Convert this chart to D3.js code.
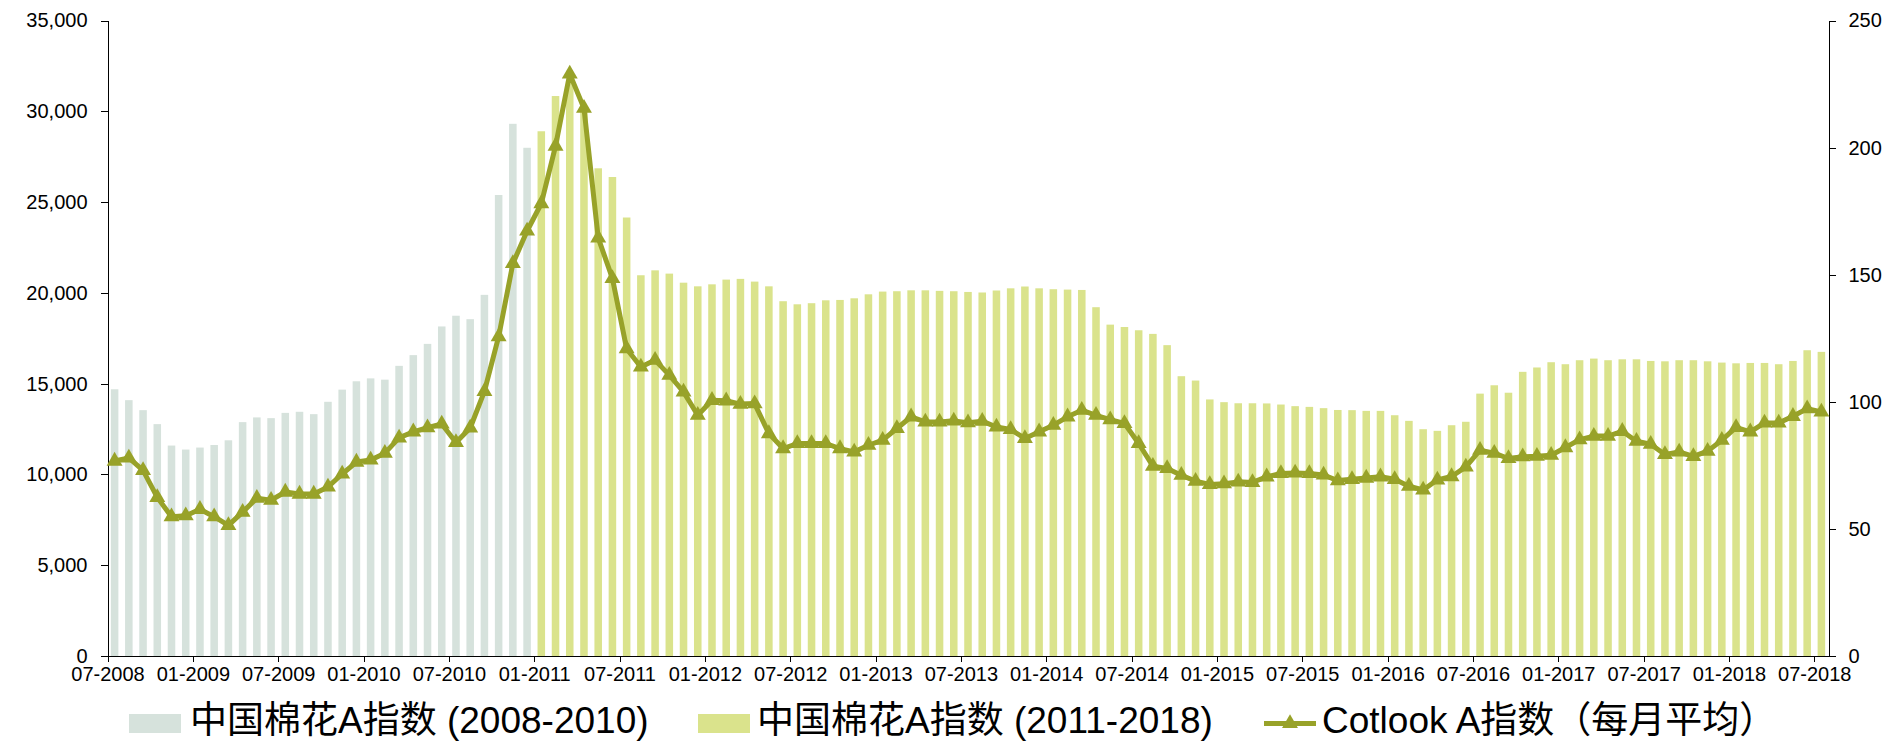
<!DOCTYPE html>
<html>
<head>
<meta charset="utf-8">
<script src="https://cdn.jsdelivr.net/npm/d3@7"></script>
<style>
  body { margin: 0; background: #fff; }
  svg text { font-family: "Liberation Sans", Arial, "Noto Sans CJK SC", sans-serif; fill: #000; }
  .axis path, .axis line { stroke: #000; shape-rendering: crispEdges; }
</style>
</head>
<body>
<div id="chart"></div>
<script>
// month categories, 07-2008 .. 07-2018
var months = [
  "07-2008","08-2008","09-2008","10-2008","11-2008","12-2008",
  "01-2009","02-2009","03-2009","04-2009","05-2009","06-2009","07-2009","08-2009","09-2009","10-2009","11-2009","12-2009",
  "01-2010","02-2010","03-2010","04-2010","05-2010","06-2010","07-2010","08-2010","09-2010","10-2010","11-2010","12-2010",
  "01-2011","02-2011","03-2011","04-2011","05-2011","06-2011","07-2011","08-2011","09-2011","10-2011","11-2011","12-2011",
  "01-2012","02-2012","03-2012","04-2012","05-2012","06-2012","07-2012","08-2012","09-2012","10-2012","11-2012","12-2012",
  "01-2013","02-2013","03-2013","04-2013","05-2013","06-2013","07-2013","08-2013","09-2013","10-2013","11-2013","12-2013",
  "01-2014","02-2014","03-2014","04-2014","05-2014","06-2014","07-2014","08-2014","09-2014","10-2014","11-2014","12-2014",
  "01-2015","02-2015","03-2015","04-2015","05-2015","06-2015","07-2015","08-2015","09-2015","10-2015","11-2015","12-2015",
  "01-2016","02-2016","03-2016","04-2016","05-2016","06-2016","07-2016","08-2016","09-2016","10-2016","11-2016","12-2016",
  "01-2017","02-2017","03-2017","04-2017","05-2017","06-2017","07-2017","08-2017","09-2017","10-2017","11-2017","12-2017",
  "01-2018","02-2018","03-2018","04-2018","05-2018","06-2018","07-2018"
];

var tickLabels = ["07-2008","01-2009","07-2009","01-2010","07-2010","01-2011","07-2011",
  "01-2012","07-2012","01-2013","07-2013","01-2014","07-2014","01-2015","07-2015",
  "01-2016","07-2016","01-2017","07-2017","01-2018","07-2018"];

// 中国棉花A指数, 07-2008 .. 12-2010
var cnIndexOld = [14690,14090,13540,12770,11590,11370,
  11480,11620,11880,12880,13140,13100,13390,13450,13320,14000,14670,15130,
  15290,15220,15980,16570,17190,18150,18740,18550,19890,25390,29310,27990];

// 中国棉花A指数, 01-2011 .. 07-2018
var cnIndexNew = [28900,30840,31700,30000,26860,26380,24150,20970,21240,21060,20560,20360,
  20470,20730,20770,20620,20360,19540,19370,19430,19590,19610,19700,19920,
  20070,20090,20140,20140,20110,20090,20050,20020,20130,20250,20350,20250,
  20200,20180,20160,19210,18250,18120,17940,17740,17120,15410,15170,14130,
  13980,13920,13920,13910,13850,13760,13720,13650,13550,13540,13500,13500,
  13260,12950,12490,12400,12710,12900,14450,14910,14500,15650,15890,16180,
  16070,16290,16380,16290,16340,16340,16250,16230,16290,16290,16230,16160,
  16120,16140,16140,16070,16250,16840,16750];

// Cotlook A指数 monthly average, 07-2008 .. 07-2018
var cotlook = [76.7,77.9,73.0,62.4,54.8,55.2,
  57.7,54.8,51.4,56.6,62.1,61.3,64.5,63.7,63.7,66.5,71.6,76.3,
  77.1,79.8,85.8,88.2,89.8,91.3,84.0,89.7,104.1,125.6,154.4,167.2,
  178.0,200.6,229.0,215.5,164.5,148.5,120.9,113.7,116.4,110.5,103.9,94.7,
  100.6,100.4,99.1,99.3,87.5,81.6,83.6,83.6,83.6,81.6,80.3,82.9,
  84.9,89.5,94.1,92.1,92.1,92.5,91.8,92.4,90.1,89.1,85.6,88.2,
  90.8,94.1,96.7,94.7,93.0,91.5,83.6,74.7,73.8,71.1,68.8,67.5,
  67.8,68.5,68.3,70.5,71.8,72.0,71.8,71.2,69.0,69.5,70.0,70.5,
  69.5,66.8,65.3,69.3,70.6,74.4,81.0,79.8,77.7,78.4,78.6,79.0,
  82.0,85.1,86.5,86.5,88.4,84.5,83.3,79.3,80.3,78.5,80.6,84.9,
  89.9,88.2,91.7,91.7,94.3,97.3,96.0];

var legendLabels = ["中国棉花A指数 (2008-2010)", "中国棉花A指数 (2011-2018)", "Cotlook A指数（每月平均）"];

var colors = { old: "#d6e2dc", fresh: "#dae38c", line: "#98a229" };

drawChart();

function drawChart() {
    var width = 1893, height = 741;
    var margins = { left: 107.5, right: 64.5, top: 20.5, bottom: 85 };
    var plotW = width - margins.left - margins.right;
    var plotH = height - margins.top - margins.bottom;

    var svg = d3.select("#chart").append("svg")
        .attr("width", width)
        .attr("height", height);

    var g = svg.append("g")
        .attr("transform", "translate(" + margins.left + "," + margins.top + ")");

    var bars = months.map(function (m, i) {
        return i < cnIndexOld.length
            ? { month: m, value: cnIndexOld[i], series: "old" }
            : { month: m, value: cnIndexNew[i - cnIndexOld.length], series: "fresh" };
    });

    var x = d3.scaleBand().domain(months).range([0, plotW]).padding(0);
    var xTicks = d3.scaleLinear().domain([0, months.length]).range([0, plotW]);
    var yLeft = d3.scaleLinear().domain([0, 35000]).range([plotH, 0]);
    var yRight = d3.scaleLinear().domain([0, 250]).range([plotH, 0]);

    var barW = x.bandwidth() * 0.53;

    // bars
    g.selectAll("rect.bar")
        .data(bars)
        .enter().append("rect")
        .attr("class", "bar")
        .attr("x", function (d) { return x(d.month) + (x.bandwidth() - barW) / 2; })
        .attr("width", barW)
        .attr("y", function (d) { return yLeft(d.value); })
        .attr("height", function (d) { return plotH - yLeft(d.value); })
        .attr("fill", function (d) { return colors[d.series]; });

    // axes
    var xAxis = d3.axisBottom(xTicks)
        .tickValues(tickLabels.map(function (t) { return months.indexOf(t); }))
        .tickFormat(function (i) { return months[i]; })
        .tickSize(6).tickSizeOuter(0).tickPadding(5);
    var yAxisL = d3.axisLeft(yLeft)
        .tickValues(d3.range(0, 35001, 5000))
        .tickFormat(d3.format(","))
        .tickSize(7).tickSizeOuter(0).tickPadding(13);
    var yAxisR = d3.axisRight(yRight)
        .tickValues(d3.range(0, 251, 50))
        .tickSize(7).tickSizeOuter(0).tickPadding(13);

    g.append("g").attr("class", "x axis")
        .attr("transform", "translate(0," + plotH + ")")
        .call(xAxis)
        .selectAll("text").style("font-size", "20px");
    g.append("g").attr("class", "y axis")
        .call(yAxisL)
        .selectAll("text").style("font-size", "20px");
    g.append("g").attr("class", "y2 axis")
        .attr("transform", "translate(" + plotW + ",0)")
        .call(yAxisR)
        .selectAll("text").style("font-size", "20px");
    g.selectAll(".axis text").attr("fill", "#000");

    // Cotlook line
    var cx = function (d, i) { return x(months[i]) + x.bandwidth() / 2; };
    var line = d3.line()
        .x(cx)
        .y(function (d) { return yRight(d); });

    g.append("path")
        .datum(cotlook)
        .attr("fill", "none")
        .attr("stroke", colors.line)
        .attr("stroke-width", 5)
        .attr("stroke-linejoin", "round")
        .attr("d", line);

    var tri = d3.symbol().type(d3.symbolTriangle).size(110);
    g.selectAll("path.marker")
        .data(cotlook)
        .enter().append("path")
        .attr("class", "marker")
        .attr("d", tri)
        .attr("fill", colors.line)
        .attr("transform", function (d, i) {
            return "translate(" + cx(d, i) + "," + yRight(d) + ")";
        });

    // legend
    var legend = svg.append("g").attr("class", "legend");
    var items = [
        { label: legendLabels[0], kind: "old", x: 129, tx: 190 },
        { label: legendLabels[1], kind: "fresh", x: 698, tx: 757 },
        { label: legendLabels[2], kind: "line", x: 1264, tx: 1322 }
    ];
    items.forEach(function (it) {
        if (it.kind === "line") {
            legend.append("line")
                .attr("x1", it.x).attr("x2", it.x + 52)
                .attr("y1", 723.5).attr("y2", 723.5)
                .attr("stroke", colors.line).attr("stroke-width", 5);
            legend.append("path")
                .attr("d", tri)
                .attr("fill", colors.line)
                .attr("transform", "translate(" + (it.x + 26) + ",723.5)");
        } else {
            legend.append("rect")
                .attr("x", it.x).attr("y", 714)
                .attr("width", 52).attr("height", 19)
                .attr("fill", colors[it.kind]);
        }
        legend.append("text")
            .attr("x", it.tx).attr("y", 733)
            .style("font-size", "37px")
            .text(it.label);
    });
}
</script>
</body>
</html>
